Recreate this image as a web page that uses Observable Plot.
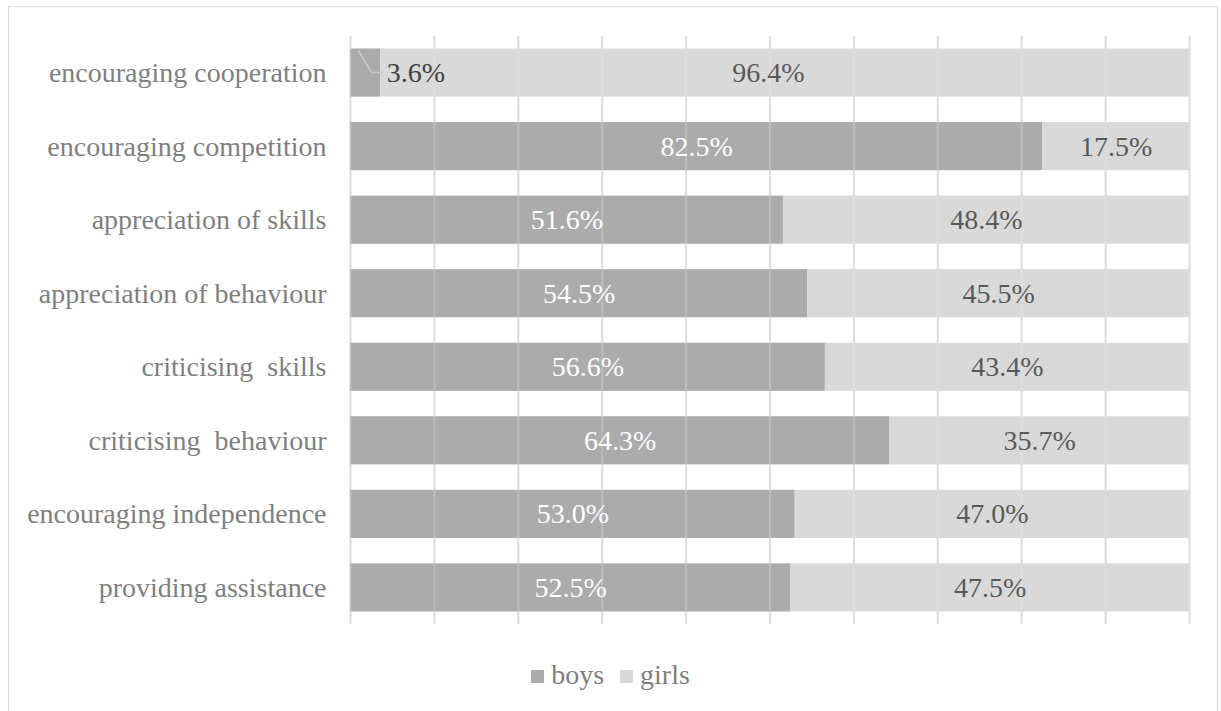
<!DOCTYPE html>
<html>
<head>
<meta charset="utf-8">
<script src="https://cdn.jsdelivr.net/npm/d3@7"></script>
<script src="https://cdn.jsdelivr.net/npm/@observablehq/plot@0.6"></script>
<style>
  html, body { margin: 0; padding: 0; background: #fff; }
  #frame { position: absolute; left: 8px; top: 6px; width: 1210px; height: 720px; border: 1px solid #d9d9d9; box-sizing: border-box; }
  #chart { position: absolute; left: 0; top: 0; }
  #legend { position: absolute; left: 0; top: 659px; width: 1221px; text-align: center; font-family: "Times New Roman", "Liberation Serif", Tinos, "DejaVu Serif", serif; font-size: 28px; color: #7f7f7f; }
  #legend span.sw { display: inline-block; width: 13px; height: 13px; margin-right: 7px; vertical-align: 1px; }
  #legend span.item { margin: 0 8px; }
</style>
</head>
<body>
<div id="frame"></div>
<div id="chart"></div>
<div id="legend"></div>
<script>
const categories = [
  "encouraging cooperation",
  "encouraging competition",
  "appreciation of skills",
  "appreciation of behaviour",
  "criticising  skills",
  "criticising  behaviour",
  "encouraging independence",
  "providing assistance"
];
const boys = [3.6, 82.5, 51.6, 54.5, 56.6, 64.3, 53.0, 52.5];
const girls = [96.4, 17.5, 48.4, 45.5, 43.4, 35.7, 47.0, 47.5];
const seriesNames = ["boys", "girls"];
const seriesColors = ["#ababab", "#d9d9d9"];
const xTicks = [0, 10, 20, 30, 40, 50, 60, 70, 80, 90, 100];

const rows = categories.map((c, i) => ({cat: c, boys: boys[i], girls: girls[i]}));
const font = "'Times New Roman', 'Liberation Serif', Tinos, 'DejaVu Serif', serif";

const leader = (index, scales) => {
  const ns = "http://www.w3.org/2000/svg";
  const g = document.createElementNS(ns, "g");
  rows.filter(d => d.boys < 10).forEach(d => {
    const yTop = scales.y(d.cat);
    const bw = scales.y.bandwidth();
    const yc = yTop + bw / 2;
    const x0 = scales.x(d.boys * 0.27);
    const x1 = scales.x(d.boys * 0.72);
    const x2 = scales.x(d.boys * 1.12);
    const p = document.createElementNS(ns, "path");
    p.setAttribute("d", `M${x0},${yTop + 2}L${x1},${yc}L${x2},${yc}`);
    p.setAttribute("fill", "none");
    p.setAttribute("stroke", "#c8c8c8");
    p.setAttribute("stroke-width", 1.5);
    g.appendChild(p);
  });
  return g;
};

const chart = Plot.plot({
  width: 1221,
  height: 650,
  marginLeft: 350,
  marginRight: 32,
  marginTop: 36,
  marginBottom: 26,
  style: {fontFamily: font, background: "transparent"},
  x: {domain: [0, 100], axis: null},
  y: {domain: categories, paddingInner: 0.346, paddingOuter: 0.17, round: false, axis: null},
  marks: [
    Plot.ruleX(xTicks, {x: d => d, stroke: "#d9d9d9", strokeWidth: 2}),
    Plot.barX(rows, {y: "cat", x1: 0, x2: "boys", fill: seriesColors[0]}),
    Plot.barX(rows, {y: "cat", x1: "boys", x2: 100, fill: seriesColors[1]}),
    Plot.ruleX(xTicks, {x: d => d, stroke: "#f0f0f0", strokeWidth: 2, strokeOpacity: 0.25}),
    Plot.text(rows, {y: "cat", x: 0, text: "cat", textAnchor: "end", dx: -24, fill: "#7f7f7f", fontSize: 28}),
    Plot.text(rows.filter(d => d.boys >= 10), {y: "cat", x: d => d.boys / 2, text: d => d.boys.toFixed(1) + "%", fill: "#ffffff", fontSize: 28}),
    Plot.text(rows.filter(d => d.boys < 10), {y: "cat", x: d => d.boys * 1.2, text: d => d.boys.toFixed(1) + "%", textAnchor: "start", fill: "#404040", fontSize: 28}),
    Plot.text(rows, {y: "cat", x: d => d.boys < 10 ? (d.boys + 100) / 2 - 2 : (d.boys + 100) / 2, text: d => d.girls.toFixed(1) + "%", fill: "#595959", fontSize: 28}),
    leader
  ]
});
document.getElementById("chart").appendChild(chart);

const legend = document.getElementById("legend");
seriesNames.forEach((n, i) => {
  const item = document.createElement("span");
  item.className = "item";
  const sw = document.createElement("span");
  sw.className = "sw";
  sw.style.background = seriesColors[i];
  item.appendChild(sw);
  item.appendChild(document.createTextNode(n));
  legend.appendChild(item);
});
</script>
</body>
</html>
